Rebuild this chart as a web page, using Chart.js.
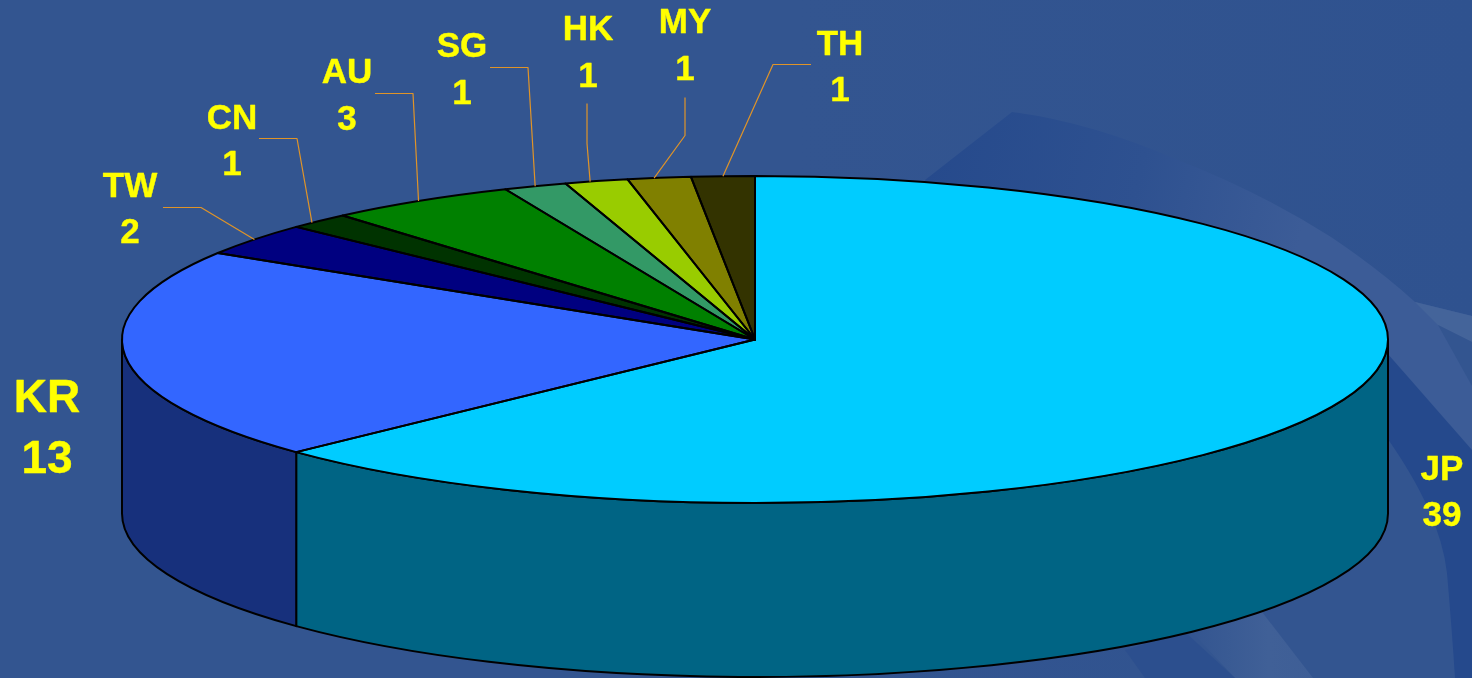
<!DOCTYPE html>
<html>
<head>
<meta charset="utf-8">
<title>Pie</title>
<script src="https://cdn.jsdelivr.net/npm/chart.js@4/dist/chart.umd.min.js"></script>
<style>
  html, body { margin: 0; padding: 0; background: #335590; overflow: hidden; }
  #wrap { position: relative; width: 1472px; height: 678px; }
  #bg, #pie { position: absolute; left: 0; top: 0; }
</style>
</head>
<body>
<div id="wrap">
  <!-- slide background swooshes -->
  <svg id="bg" width="1472" height="678" viewBox="0 0 1472 678">
    <defs>
      <linearGradient id="baseFade" gradientUnits="userSpaceOnUse" x1="800" y1="0" x2="1472" y2="0">
        <stop offset="0" stop-color="#335590"/>
        <stop offset="1" stop-color="#2f528f"/>
      </linearGradient>
      <linearGradient id="darkFade" gradientUnits="userSpaceOnUse" x1="930" y1="150" x2="1300" y2="240">
        <stop offset="0" stop-color="#264a8c"/>
        <stop offset="0.55" stop-color="#2e5190"/>
        <stop offset="1" stop-color="#3c5c97"/>
      </linearGradient>
      <linearGradient id="bandFade" gradientUnits="userSpaceOnUse" x1="1190" y1="640" x2="1320" y2="640">
        <stop offset="0" stop-color="#335590"/>
        <stop offset="0.6" stop-color="#406097"/>
        <stop offset="1" stop-color="#3e5e96"/>
      </linearGradient>
    </defs>
    <rect width="1472" height="678" fill="url(#baseFade)"/>
    <path d="M925 180 L1012 112 Q1090 122 1178 160 Q1260 192 1331 237 Q1380 270 1415 302 L1472 316 L1472 460 L1300 460 L925 300 Z" fill="url(#darkFade)"/>
    <path d="M1415 302 L1472 316 L1472 342 L1438 325 Z" fill="#44649a"/>
    <path d="M1438 325 L1472 342 L1472 386 Z" fill="#335590"/>
    <path d="M1380 345 L1472 450 L1472 678 L1300 678 L1300 400 Z" fill="#25498c"/>
    <path d="M1380 428 Q1440 510 1447 573 Q1452 630 1455 678 L1130 678 L1130 428 Z" fill="#335590"/>
    <path d="M1190 630 L1262 612 L1313 678 L1235 678 Z" fill="url(#bandFade)"/>
    <path d="M1125 650 L1185 632 L1235 678 L1145 678 Z" fill="#2c4f8e"/>
  </svg>
  <canvas id="pie" width="1472" height="678"></canvas>
</div>
<script>
const categories = ['JP', 'KR', 'TW', 'CN', 'AU', 'SG', 'HK', 'MY', 'TH']
const values = [39, 13, 2, 1, 3, 1, 1, 1, 1]

const topColors = ['#00ccff', '#3366ff', '#000080', '#003300', '#008000', '#339966', '#99cc00', '#808000', '#333300']
const wallColors = ['#006484', '#17307c', '#000050', '#001a00', '#004d00', '#1f5c3d', '#5c7a00', '#4d4d00', '#1f1f00']

// label placement by category: text centre, baselines, font size, leader elbow
const labelLayout = {
  JP: { x: 1442, y: [480, 526], size: 35 },
  KR: { x: 47, y: [412, 473], size: 46 },
  TW: { x: 130, y: [197, 243], size: 35, leader: [[163, 207], [201, 207]] },
  CN: { x: 232, y: [129, 175], size: 35, leader: [[259, 138], [297, 138]], at: 0.35 },
  AU: { x: 347, y: [83, 130], size: 35, leader: [[375, 93], [413, 93]], at: 0.49 },
  SG: { x: 462, y: [57, 104], size: 35, leader: [[490, 67], [528, 67]] },
  HK: { x: 588, y: [40, 87], size: 35, leader: [[587, 103], [587, 143]], at: 0.4 },
  MY: { x: 685, y: [33, 80], size: 35, leader: [[685, 97], [685, 135]], at: 0.42 },
  TH: { x: 840, y: [55, 101], size: 35, leader: [[811, 64], [773, 64]] }
}

const SQUASH = 163.5 / 633   // top face height / width
const DEPTH = 174            // height of the side wall
const EDGE_WIDTH = 2

// walls go under the arcs, and the arcs themselves get flattened into an ellipse
const tiltPlugin = {
  id: 'tilt',
  beforeDatasetsDraw(chart) {
    const ctx = chart.ctx
    const arcs = chart.getDatasetMeta(0).data

    ctx.lineJoin = 'round'
    arcs.forEach((arc, i) => {
      const a = Math.max(arc.startAngle, 0)
      const b = Math.min(arc.endAngle, Math.PI)
      if (a >= b) return
      const ry = arc.outerRadius * SQUASH
      ctx.beginPath()
      ctx.ellipse(arc.x, arc.y, arc.outerRadius, ry, 0, a, b)
      ctx.ellipse(arc.x, arc.y + DEPTH, arc.outerRadius, ry, 0, b, a, true)
      ctx.closePath()
      ctx.fillStyle = wallColors[i]
      ctx.fill()
      ctx.strokeStyle = '#000'
      ctx.lineWidth = EDGE_WIDTH
      ctx.stroke()
    })

    const first = arcs[0]
    ctx.save()
    ctx.translate(0, first.y)
    ctx.scale(1, SQUASH)
    ctx.translate(0, -first.y)
  },
  afterDatasetsDraw(chart) {
    const ctx = chart.ctx
    ctx.restore()

    const arcs = chart.getDatasetMeta(0).data

    // outlines drawn outside the squash so the line width stays even
    ctx.lineJoin = 'round'
    arcs.forEach(arc => {
      ctx.beginPath()
      ctx.moveTo(arc.x, arc.y)
      ctx.ellipse(arc.x, arc.y, arc.outerRadius, arc.outerRadius * SQUASH, 0, arc.startAngle, arc.endAngle)
      ctx.closePath()
      ctx.strokeStyle = '#000'
      ctx.lineWidth = EDGE_WIDTH
      ctx.stroke()
    })

    arcs.forEach((arc, i) => {
      const layout = labelLayout[categories[i]]

      if (layout.leader) {
        const at = layout.at === undefined ? 0.5 : layout.at
        const angle = arc.startAngle + (arc.endAngle - arc.startAngle) * at
        ctx.beginPath()
        ctx.moveTo(layout.leader[0][0], layout.leader[0][1] + 0.5)
        ctx.lineTo(layout.leader[1][0], layout.leader[1][1] + 0.5)
        ctx.lineTo(arc.x + Math.cos(angle) * arc.outerRadius, arc.y + Math.sin(angle) * arc.outerRadius * SQUASH)
        ctx.strokeStyle = '#e09428'
        ctx.lineWidth = 1.2
        ctx.stroke()
      }

      // slightly heavier than plain bold
      ctx.fillStyle = '#ffff00'
      ctx.strokeStyle = '#ffff00'
      ctx.lineWidth = 0.4
      ctx.font = `bold ${layout.size}px "Liberation Sans", Arial, sans-serif`
      ctx.textAlign = 'center'
      ctx.textBaseline = 'alphabetic'
      ctx.fillText(categories[i], layout.x, layout.y[0])
      ctx.strokeText(categories[i], layout.x, layout.y[0])
      ctx.fillText(String(values[i]), layout.x, layout.y[1])
      ctx.strokeText(String(values[i]), layout.x, layout.y[1])
    })
  }
}

new Chart(document.getElementById('pie'), {
  type: 'pie',
  data: {
    labels: categories,
    datasets: [{
      data: values,
      backgroundColor: topColors,
      borderWidth: 0,
      clip: false
    }]
  },
  options: {
    responsive: false,
    animation: false,
    radius: 633,
    layout: { padding: { left: 38, top: 1 } },
    plugins: {
      legend: { display: false },
      tooltip: { enabled: false }
    }
  },
  plugins: [tiltPlugin]
})
</script>
</body>
</html>
